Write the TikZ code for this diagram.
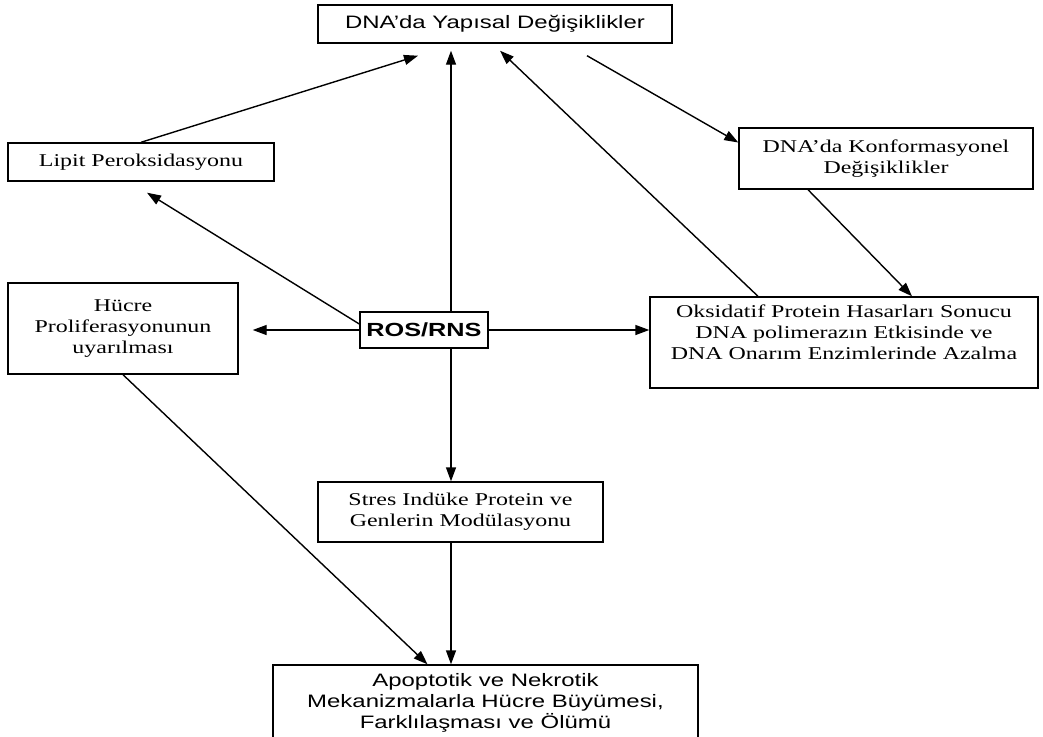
\documentclass[tikz,border=0pt]{standalone}
\usepackage{fontspec}
\setmainfont{Liberation Serif}[FakeStretch=1.33]
\setsansfont{Liberation Sans}[FakeStretch=1.33]
\usetikzlibrary{arrows.meta}

\begin{document}
\begin{tikzpicture}[x=1pt, y=-1pt, line width=1.4pt, >={Triangle[length=14pt,width=10pt]}]
  \tikzstyle{box}=[draw, align=center, inner sep=0pt, font=\fontsize{18}{21}\selectfont]
  \tikzstyle{sbox}=[box, font=\sffamily\fontsize{18}{21}\selectfont]
  \tikzstyle{arr}=[->]
  \useasboundingbox (0,0) rectangle (1043,736);

  \node[sbox, minimum width=354pt, minimum height=38pt] (yapi) at (495,24) {DNA’da Yapısal Değişiklikler};
  \node[box, minimum width=266pt, minimum height=38pt] (lipit) at (141,162) {Lipit Peroksidasyonu};
  \node[box, minimum width=294pt, minimum height=61pt] (konf) at (886,158.5) {DNA’da Konformasyonel\\Değişiklikler};
  \node[box, minimum width=230pt, minimum height=91pt] (hucre) at (123,328.5) {Hücre\\Proliferasyonunun\\uyarılması};
  \node[sbox, minimum width=128pt, minimum height=36pt, font=\sffamily\bfseries\fontsize{19}{21}\selectfont] (ros) at (424,330) {ROS/RNS};
  \node[box, minimum width=388pt, minimum height=91pt] (oks) at (844,342.5) {Oksidatif Protein Hasarları Sonucu\\DNA polimerazın Etkisinde ve\\DNA Onarım Enzimlerinde Azalma\\\mbox{}};
  \node[box, minimum width=285pt, minimum height=60pt] (stres) at (460.5,512) {Stres Indüke Protein ve\\Genlerin Modülasyonu};
  \node[sbox, minimum width=425pt, minimum height=76pt] (apop) at (485.5,703) {Apoptotik ve Nekrotik\\Mekanizmalarla Hücre Büyümesi,\\Farklılaşması ve Ölümü};
  \coordinate (axis) at (451,0);

  \draw[arr, shorten >=7pt] (ros.north -| axis) -- (yapi.south -| axis);
  \draw[arr] (ros.south -| axis) -- (stres.north -| axis);
  \draw[arr] (stres.south -| axis) -- (apop.north -| axis);
  \draw[arr] ([yshift=6pt]ros.west) -- ([shift={(6pt,-11pt)}]lipit.south);
  \draw[arr] (ros.west) -- ([xshift=14pt]hucre.east |- ros.west);
  \draw[arr] (ros.east) -- (oks.west |- ros.east);
  \draw[arr] (lipit.north) -- ([shift={(-77pt,-12pt)}]yapi.south);
  \draw[arr] ([xshift=92pt, yshift=-12pt]yapi.south) -- ([yshift=16pt]konf.west);
  \draw[arr] ([xshift=-78pt]konf.south) -- ([xshift=68pt]oks.north);
  \draw[arr] ([xshift=-86pt]oks.north) -- ([shift={(5pt,-7pt)}]yapi.south);
  \draw[arr] (hucre.south) -- ([xshift=-58pt]apop.north);
\end{tikzpicture}
\end{document}
